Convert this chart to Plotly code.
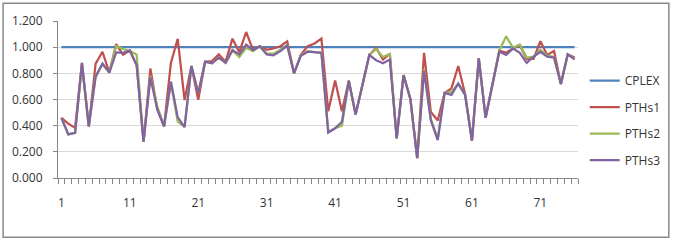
import plotly.graph_objects as go

x_index = list(range(1, 77))
x_tick_vals = [1, 11, 21, 31, 41, 51, 61, 71]
x_tick_text = ["1", "11", "21", "31", "41", "51", "61", "71"]
y_tick_vals = [0.0, 0.2, 0.4, 0.6, 0.8, 1.0, 1.2]

cplex = [1.0] * 76

pths1 = [0.46, 0.415, 0.383, 0.88, 0.395, 0.874, 0.965, 0.806, 1.024, 0.943,
         0.974, 0.862, 0.277, 0.837, 0.525, 0.395, 0.88, 1.064, 0.596, 0.856,
         0.597, 0.889, 0.894, 0.945, 0.889, 1.065, 0.962, 1.116, 0.98, 1.007,
         0.98, 0.99, 1.007, 1.044, 0.80, 0.944, 1.007, 1.028, 1.065, 0.51,
         0.745, 0.51, 0.743, 0.486, 0.71, 0.94, 0.995, 0.905, 0.948, 0.302,
         0.786, 0.605, 0.151, 0.957, 0.504, 0.44, 0.65, 0.685, 0.856, 0.64,
         0.285, 0.915, 0.46, 0.718, 0.975, 0.957, 0.99, 1.015, 0.91, 0.91,
         1.045, 0.94, 0.97, 0.718, 0.945, 0.92]

pths2 = [0.46, 0.335, 0.345, 0.86, 0.395, 0.78, 0.87, 0.806, 1.008, 0.986,
         0.972, 0.942, 0.277, 0.78, 0.55, 0.395, 0.725, 0.43, 0.39, 0.856,
         0.65, 0.889, 0.877, 0.92, 0.88, 0.975, 0.925, 0.995, 0.97, 1.007,
         0.95, 0.95, 0.98, 1.015, 0.80, 0.94, 0.97, 0.965, 0.957, 0.35,
         0.38, 0.40, 0.743, 0.486, 0.71, 0.94, 0.985, 0.925, 0.948, 0.302,
         0.786, 0.605, 0.151, 0.83, 0.45, 0.30, 0.65, 0.66, 0.72, 0.635,
         0.29, 0.915, 0.46, 0.718, 0.975, 1.083, 0.995, 1.02, 0.92, 0.927,
         0.98, 0.935, 0.925, 0.718, 0.945, 0.91]

pths3 = [0.46, 0.333, 0.345, 0.88, 0.395, 0.773, 0.874, 0.806, 0.96, 0.956,
         0.974, 0.862, 0.277, 0.77, 0.526, 0.395, 0.737, 0.463, 0.389, 0.856,
         0.648, 0.889, 0.877, 0.92, 0.88, 0.977, 0.945, 1.02, 0.977, 1.007,
         0.945, 0.937, 0.97, 1.012, 0.80, 0.935, 0.965, 0.962, 0.957, 0.348,
         0.38, 0.43, 0.743, 0.486, 0.71, 0.94, 0.9, 0.877, 0.905, 0.302,
         0.786, 0.605, 0.151, 0.819, 0.44, 0.29, 0.65, 0.635, 0.723, 0.635,
         0.285, 0.915, 0.46, 0.718, 0.965, 0.94, 0.99, 0.957, 0.88, 0.927,
         0.965, 0.927, 0.92, 0.718, 0.945, 0.907]

series = [
    ("CPLEX", cplex, "#4F81BD"),
    ("PTHs1", pths1, "#C0504D"),
    ("PTHs2", pths2, "#9BBB59"),
    ("PTHs3", pths3, "#8064A2"),
]

fig = go.Figure()
for name, vals, color in series:
    fig.add_trace(go.Scatter(
        x=x_index, y=vals, name=name, mode="lines",
        line=dict(color=color, width=2.25),
        legendgroup=name,
    ))

font_family = "Open Sans"
axis_color = "#868686"

fig.update_layout(
    width=679, height=242,
    margin=dict(l=57, r=101, t=19, b=64),
    paper_bgcolor="white", plot_bgcolor="white",
    font=dict(family=font_family, size=12, color="#333333"),
    showlegend=True,
    legend=dict(
        x=1.013, y=0.365, xanchor="left", yanchor="middle",
        font=dict(family=font_family, size=12, color="#333333"),
        traceorder="grouped", tracegroupgap=7.5,
        bgcolor="rgba(0,0,0,0)",
    ),
    xaxis=dict(
        range=[0.5, 76.5],
        tickmode="array", tickvals=x_tick_vals, ticktext=x_tick_text,
        ticks="", showgrid=False, zeroline=False,
        showline=True, linecolor=axis_color, linewidth=1,
        ticklabelstandoff=14,
        minor=dict(tickmode="linear", tick0=0.5, dtick=1, ticks="outside",
                   ticklen=5, tickcolor=axis_color, tickwidth=1, showgrid=False),
    ),
    yaxis=dict(
        range=[0, 1.2],
        tickmode="array", tickvals=y_tick_vals, tickformat=".3f",
        ticks="outside", ticklen=4, tickcolor=axis_color,
        showgrid=True, gridcolor="#D9D9D9", gridwidth=1,
        zeroline=False, showline=True, linecolor=axis_color, linewidth=1,
        ticklabelstandoff=8,
    ),
    shapes=[dict(
        type="rect", xref="paper", yref="paper",
        x0=(2 - 57) / 521, x1=(669 - 57) / 521,
        y0=(178 - 238) / 159, y1=(178 - 1) / 159,
        line=dict(color="#898989", width=1.5), fillcolor="rgba(0,0,0,0)",
        layer="below",
    )],
)

fig.write_html("out.html")
